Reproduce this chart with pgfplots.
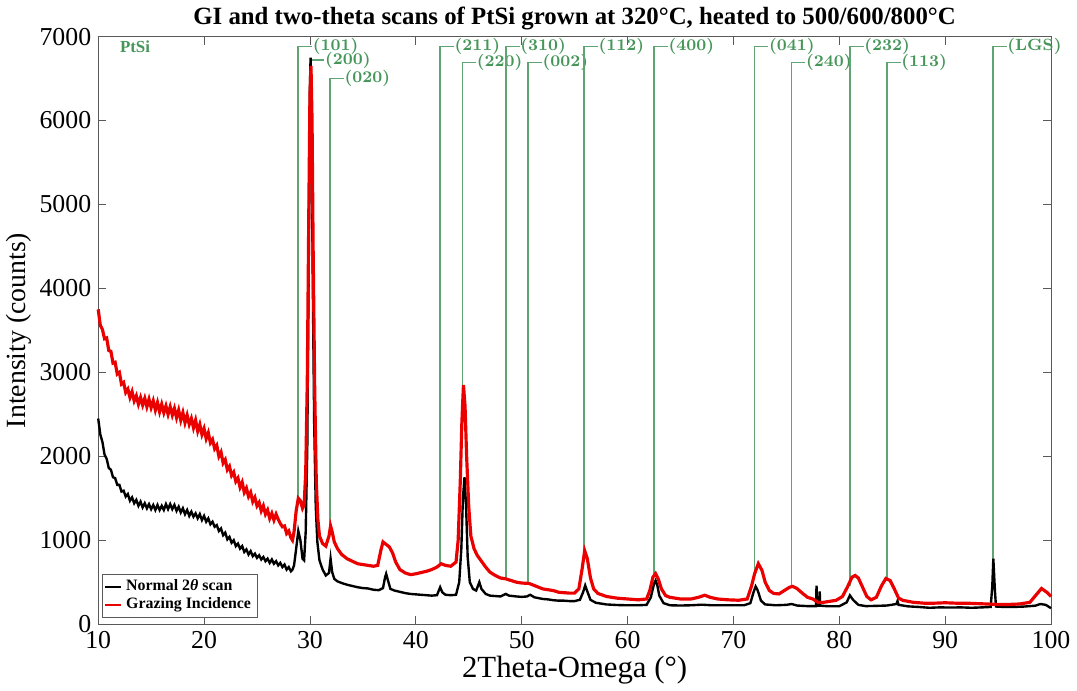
\documentclass[border=0pt]{standalone}
\usepackage{pgfplots}
\pgfplotsset{compat=1.18}
\usepackage{fontspec}
\newfontfamily\tnr{Liberation Serif}
\definecolor{lblgreen}{RGB}{70,150,90}
\definecolor{linegreen}{RGB}{95,165,115}
\definecolor{gired}{RGB}{235,0,0}

\pgfplotstableread{
x y
10.0 2450
10.2 2260
10.4 2170
10.6 2020
10.8 1970
11.0 1860
11.2 1840
11.4 1750
11.6 1740
11.8 1660
12.0 1660
12.2 1580
12.4 1590
12.6 1520
12.8 1550
13.0 1470
13.2 1510
13.4 1440
13.6 1480
13.8 1410
14.0 1460
14.2 1390
14.4 1440
14.6 1380
14.8 1430
15.0 1370
15.2 1420
15.4 1360
15.6 1420
15.8 1360
16.0 1410
16.2 1360
16.4 1430
16.6 1370
16.8 1430
17.0 1370
17.2 1420
17.4 1350
17.6 1400
17.8 1330
18.0 1380
18.2 1310
18.4 1360
18.6 1290
18.8 1340
19.0 1280
19.2 1320
19.4 1260
19.6 1310
19.8 1240
20.0 1290
20.2 1220
20.4 1260
20.6 1190
20.8 1220
21.0 1160
21.2 1180
21.4 1110
21.6 1140
21.8 1060
22.0 1090
22.2 1010
22.4 1040
22.6 970
22.8 1000
23.0 930
23.2 960
23.4 900
23.6 930
23.8 860
24.0 890
24.2 830
24.4 870
24.6 810
24.8 840
25.0 790
25.2 820
25.4 770
25.6 800
25.8 750
26.0 780
26.2 730
26.4 770
26.6 720
26.8 750
27.0 700
27.2 730
27.4 680
27.6 710
27.8 650
28.0 680
28.2 630
28.35 650
28.5 700
28.7 900
28.9 1110
29.1 1000
29.3 780
29.45 760
29.6 1100
29.75 2100
29.9 4500
30.0 6400
30.06 6750
30.15 6200
30.25 4300
30.4 2400
30.55 1400
30.7 980
30.9 760
31.2 650
31.5 580
31.8 610
31.95 780
32.1 620
32.3 540
32.6 510
33.0 490
33.5 470
34.0 455
34.5 440
35.0 430
35.5 425
36.0 410
36.5 405
36.9 430
37.1 560
37.2 600
37.35 530
37.6 420
38.0 400
38.5 385
39.0 370
39.5 360
40.0 355
40.5 350
41.0 345
41.5 340
42.0 345
42.3 440
42.5 380
42.8 350
43.3 345
43.8 350
44.1 500
44.3 900
44.45 1500
44.6 1750
44.75 1400
44.9 800
45.1 500
45.4 420
45.7 400
46.0 500
46.2 420
46.6 360
47.0 340
47.5 335
48.0 330
48.5 360
48.8 340
49.5 330
50.0 325
50.5 330
50.8 350
51.2 320
52.0 300
52.5 295
53.0 285
53.5 280
54.0 280
54.5 275
55.0 275
55.5 290
55.8 380
56.0 461
56.2 390
56.5 290
57.0 255
57.5 245
58.0 235
59.0 228
60.0 225
61.0 225
61.8 230
62.2 320
62.5 480
62.65 520
62.8 470
63.0 340
63.4 250
64.0 225
65.0 222
66.0 225
67.0 232
68.0 225
69.0 225
70.0 225
71.0 225
71.6 250
71.9 380
72.1 449
72.3 400
72.6 280
73.0 235
74.0 225
75.0 230
75.5 240
76.0 222
77.0 215
77.8 215
77.85 460
77.9 220
78.1 220
78.15 390
78.2 220
79.0 213
80.0 213
80.7 260
81.0 343
81.3 290
81.8 230
82.5 215
83.5 218
84.5 222
85.4 240
85.5 275
85.6 230
86.5 212
87.5 205
88.5 195
89.5 200
90.5 198
91.5 200
92.5 195
93.5 200
94.3 205
94.45 450
94.55 780
94.7 400
94.8 210
95.5 205
96.5 205
97.5 210
98.5 220
99.0 240
99.5 230
100 190
}\normaldata

\pgfplotstableread{
x y
10.0 3750
10.2 3560
10.4 3510
10.6 3400
10.8 3410
11.0 3260
11.2 3250
11.4 3110
11.6 3120
11.8 2980
12.0 3000
12.2 2860
12.4 2880
12.6 2760
12.8 2800
13.0 2700
13.2 2770
13.4 2660
13.6 2720
13.8 2620
14.0 2700
14.2 2610
14.4 2690
14.6 2590
14.8 2680
15.0 2580
15.2 2660
15.4 2550
15.6 2640
15.8 2530
16.0 2620
16.2 2520
16.4 2600
16.6 2500
16.8 2590
17.0 2490
17.2 2570
17.4 2460
17.6 2550
17.8 2430
18.0 2520
18.2 2400
18.4 2490
18.6 2380
18.8 2450
19.0 2340
19.2 2430
19.4 2300
19.6 2380
19.8 2260
20.0 2330
20.2 2210
20.4 2280
20.6 2160
20.8 2200
21.0 2090
21.2 2130
21.4 2000
21.6 2050
21.8 1920
22.0 1960
22.2 1840
22.4 1880
22.6 1770
22.8 1810
23.0 1700
23.2 1740
23.4 1630
23.6 1690
23.8 1570
24.0 1620
24.2 1520
24.4 1570
24.6 1460
24.8 1510
25.0 1410
25.2 1450
25.4 1350
25.6 1410
25.8 1310
26.0 1360
26.2 1260
26.4 1320
26.6 1240
26.8 1310
27.0 1250
27.2 1200
27.4 1160
27.6 1170
27.8 1080
28.0 1110
28.2 1030
28.35 1000
28.5 1100
28.7 1350
28.9 1500
29.1 1470
29.3 1380
29.45 1420
29.6 1800
29.75 2900
29.9 5000
30.0 6300
30.1 6650
30.2 6000
30.3 4500
30.45 2800
30.6 1700
30.75 1250
30.9 1050
31.2 960
31.5 930
31.8 1050
31.95 1170
32.1 1100
32.3 980
32.6 900
33.0 830
33.5 780
34.0 750
34.5 720
35.0 710
35.5 700
36.0 690
36.4 700
36.7 880
36.9 980
37.2 950
37.5 920
37.8 850
38.1 740
38.5 650
39.0 610
39.5 590
40.0 600
40.5 615
41.0 630
41.5 650
42.0 680
42.4 720
42.8 700
43.3 690
43.8 740
44.0 1000
44.2 1700
44.35 2400
44.5 2850
44.65 2600
44.8 2000
45.0 1400
45.2 1050
45.5 900
45.8 820
46.2 750
46.6 680
47.0 620
47.5 580
48.0 550
48.5 540
49.0 520
49.5 500
50.0 490
50.7 485
51.2 460
52.0 420
52.5 410
53.0 400
53.5 380
54.0 375
54.5 370
55.0 370
55.4 420
55.7 650
55.95 875
56.2 780
56.5 550
56.8 420
57.2 366
58.0 330
59.0 310
60.0 300
61.0 290
61.8 300
62.1 400
62.4 560
62.65 603
62.9 540
63.2 420
63.6 340
64.0 320
65.0 300
66.0 300
66.7 320
67.3 345
67.8 320
68.5 300
69.5 290
70.5 285
71.3 300
71.7 450
72.0 600
72.35 721
72.7 640
73.0 500
73.4 400
73.8 366
74.3 360
74.8 400
75.3 440
75.6 450
76.0 425
76.5 370
77.0 320
77.5 300
78.0 260
78.5 260
79.0 270
79.7 284
80.3 330
80.8 450
81.2 560
81.5 580
81.8 550
82.2 440
82.6 330
83.0 290
83.5 320
84.0 460
84.4 544
84.8 520
85.2 420
85.6 310
86.0 284
87.0 260
88.0 250
89.0 250
90.0 255
91.0 250
92.0 250
93.0 245
94.0 240
95.0 235
96.0 235
97.0 240
98.0 260
98.6 350
99.1 425
99.6 380
100 330
}\gidata

% x, bottom of line, label height, label
\pgfplotstableread{
x low high lab
28.9 1500 6880 (101)
30.06 6600 6720 (200)
31.9 1170 6500 (020)
42.3 720 6880 (211)
44.4 2800 6690 (220)
48.5 544 6880 (310)
50.6 485 6690 (002)
55.9 870 6880 (112)
62.5 600 6880 (400)
72.0 650 6880 (041)
75.5 449 6690 (240)
81.0 450 6880 (232)
84.5 544 6690 (113)
94.5 780 6880 (LGS)
}\peaks

\begin{document}
\begin{tikzpicture}
\begin{axis}[
  scale only axis,
  width=480pt, height=296pt,
  xmin=10, xmax=100, ymin=0, ymax=7000,
  xtick={10,20,...,100},
  ytick={0,1000,...,7000},
  scaled y ticks=false,
  /pgf/number format/1000 sep={},
  /pgf/number format/assume math mode=true,
  tick align=inside,
  major tick length=4pt,
  tick style={gray!70!black, thin},
  axis line style={gray!70!black, thin},
  ticklabel style={font=\tnr\fontsize{13}{14}\selectfont},
  xlabel={2Theta-Omega (°)},
  ylabel={Intensity (counts)},
  xlabel style={font=\tnr\fontsize{15.5}{16}\selectfont, yshift=3pt},
  ylabel style={font=\tnr\fontsize{14}{15}\selectfont, yshift=-3pt},
  title={GI and two-theta scans of PtSi grown at 320°C, heated to 500/600/800°C},
  title style={font=\tnr\bfseries\fontsize{12.5}{13}\selectfont, yshift=-6pt},
  legend style={at={(0.004,0.01)}, anchor=south west, draw=gray!70!black,
    font=\tnr\bfseries\fontsize{8}{8.5}\selectfont, inner sep=1pt,
    row sep=-2pt, cells={anchor=west}},
  legend image code/.code={\draw[#1, line width=1pt] (0pt,0pt) -- (8pt,0pt);},
  clip=false,
]
% peak reference lines
\pgfplotsinvokeforeach{0,...,13}{
  \pgfplotstablegetelem{#1}{x}\of\peaks \edef\px{\pgfplotsretval}
  \pgfplotstablegetelem{#1}{low}\of\peaks \edef\pl{\pgfplotsretval}
  \pgfplotstablegetelem{#1}{high}\of\peaks \edef\ph{\pgfplotsretval}
  \pgfplotstablegetelem{#1}{lab}\of\peaks \edef\pt{\pgfplotsretval}
  \edef\tmp{\noexpand\draw[linegreen, line width=0.8pt, overlay]
    (axis cs:\px,\pl) -- (axis cs:\px,\ph) -- ++(axis direction cs:1.3,0)
    node[anchor=west, inner sep=0pt, text=lblgreen, font=\noexpand\bfseries\noexpand\fontsize{8.2}{9}\noexpand\selectfont] {\pt};}
  \tmp
}
\addplot[black, line width=1.2pt, forget plot] table[x=x,y=y] {\normaldata};
\addplot[gired, line width=1.6pt, forget plot] table[x=x,y=y] {\gidata};
\addlegendimage{black}
\addlegendentry{Normal 2\textit{θ} scan}
\addlegendimage{gired}
\addlegendentry{Grazing Incidence}
\node[anchor=west, text=lblgreen, font=\tnr\bfseries\fontsize{8.5}{9}\selectfont] at (axis cs:11.4,6880) {PtSi};
\end{axis}
\end{tikzpicture}
\end{document}
